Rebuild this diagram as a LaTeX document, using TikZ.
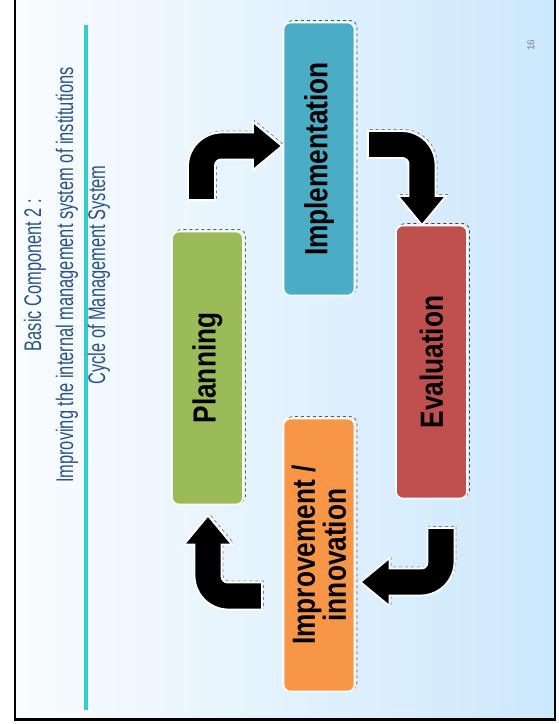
\documentclass[tikz,border=0pt]{standalone}
\usepackage{fontspec}
\setmainfont{Liberation Sans}
\newfontfamily\stagefont[FakeStretch=0.82]{Liberation Sans}
\newfontfamily\titlefont[FakeStretch=0.685]{Liberation Sans}
\definecolor{plangreen}{HTML}{9BBB59}
\definecolor{implblue}{HTML}{4BACC6}
\definecolor{evalred}{HTML}{C0504D}
\definecolor{improvorange}{HTML}{F79646}
\definecolor{titleblue}{HTML}{2A5384}
\definecolor{rulecyan}{HTML}{33CCCC}
\definecolor{bgleft}{HTML}{F9FCFE}
\definecolor{bgright}{HTML}{CCE8FC}

\begin{document}
\begin{tikzpicture}[x=1pt,y=-1pt,
  stage/.style={rotate=90,rounded corners=7,fill=#1,draw=white,line width=1.6,
    minimum width=273,minimum height=71,inner sep=0,align=center,
    font=\stagefont\bfseries\fontsize{32}{31}\selectfont,
    preaction={draw=#1!55!black,dashed,line width=0.8,
      transform canvas={xshift=2.5pt,yshift=2pt}}},
  pics/bentarrow/.style={code={
    \filldraw[fill=black,draw=white,line width=1.8,
      preaction={draw=gray,dashed,line width=0.7,
        transform canvas={xshift=1.5pt,yshift=1.5pt}}]
      (-13.5,0) -- (-13.5,-33.5) .. controls (-13.5,-52.3) and (1.7,-67.5) .. (20.5,-67.5)
      -- (51.5,-67.5) -- (51.5,-78) -- (80.5,-54) -- (51.5,-30) -- (51.5,-40.5)
      -- (19.5,-40.5) .. controls (16.2,-40.5) and (13.5,-37.8) .. (13.5,-34.5)
      -- (13.5,0) -- cycle;
  }}]
  \useasboundingbox (0,0) rectangle (558,724);

  % slide background and frame
  \fill[white] (0,0) rectangle (558,724);
  \shade[left color=bgleft,right color=bgright] (15,0) rectangle (555,720);
  \draw[line width=2.2] (15,0) -- (15,719.5) -- (554.8,719.5) -- (554.8,0);
  \draw[rulecyan,line width=4] (86,25) -- (86,710);

  \node[rotate=90,align=center,text=titleblue,
    font=\titlefont\fontsize{24}{32}\selectfont] (titlelabel) at (67,275)
    {Basic Component 2 :\\Improving the internal management system of institutions\\Cycle of Management System};
  \node[rotate=90,text=gray,font=\fontsize{10}{10}\selectfont] (pagelabel) at (531,45) {16};

  % the four stages
  \node[stage=plangreen] (plan) at (207.5,368) {Planning};
  \node[stage=implblue] (impl) at (319,159) {Implementation};
  \node[stage=evalred] (eval) at (431.5,362) {Evaluation};
  \node[stage=improvorange] (improv) at (319,555) {Improvement /\\innovation};

  % cycle arrows
  \pic at (201.5,200) {bentarrow};
  \pic[rotate=-90] at (368,144.5) {bentarrow};
  \pic[rotate=180] at (441,528) {bentarrow};
  \pic[rotate=90] at (262,596) {bentarrow};
\end{tikzpicture}
\end{document}
